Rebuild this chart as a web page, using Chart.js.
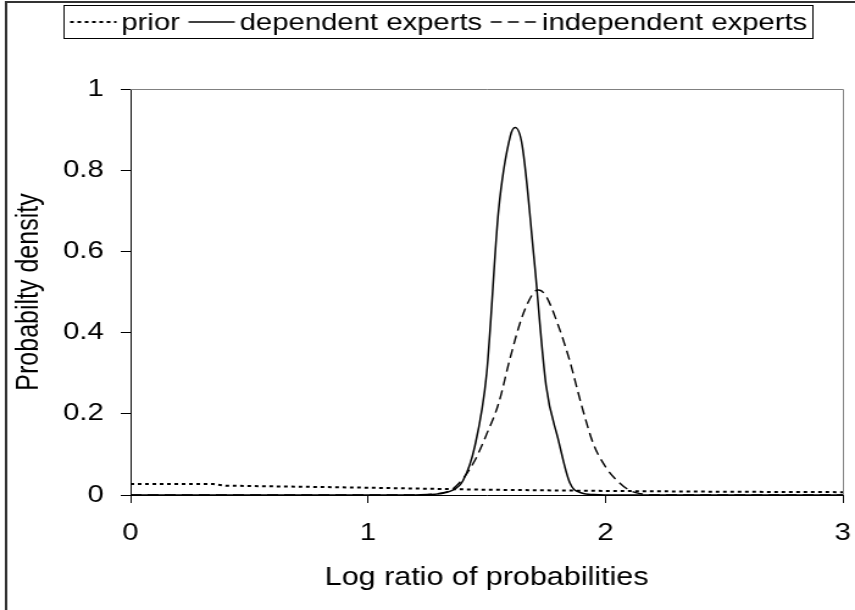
<!DOCTYPE html>
<html>
<head>
<meta charset="utf-8">
<script src="https://cdn.jsdelivr.net/npm/chart.js@4.4.0/dist/chart.umd.min.js"></script>
<style>
  html, body { margin: 0; padding: 0; background: #fff; overflow: hidden; }
  /* the original figure is stretched sideways, so draw narrower and scale in x */
  #wrap { width: 701px; height: 610px; transform: scaleX(1.2197); transform-origin: 0 0; }
</style>
</head>
<body>
<div id="wrap"><canvas id="chart" width="701" height="610"></canvas></div>
<script>
// Tick values
const xTickValues = [0, 1, 2, 3];
const yTickValues = [0, 0.2, 0.4, 0.6, 0.8, 1];

// prior (dotted)
const priorX = [0, 0.35, 0.4, 1.0, 1.5, 2.0, 2.5, 3.0];
const priorY = [0.027, 0.027, 0.023, 0.018, 0.013, 0.010, 0.008, 0.007];

// dependent experts (solid)
const depX = [0, 1.0, 1.2, 1.25, 1.3, 1.35, 1.4, 1.45, 1.5, 1.55, 1.6, 1.62, 1.65, 1.7, 1.75, 1.8, 1.85, 1.9, 1.95, 2.0, 3.0];
const depY = [0, 0, 0, 0.001, 0.003, 0.01, 0.035, 0.12, 0.30, 0.70, 0.885, 0.905, 0.86, 0.58, 0.27, 0.14, 0.03, 0.005, 0.001, 0, 0];

// independent experts (dashed)
const indX = [0, 1.0, 1.2, 1.25, 1.3, 1.35, 1.4, 1.45, 1.5, 1.55, 1.6, 1.65, 1.7, 1.72, 1.75, 1.8, 1.85, 1.9, 1.95, 2.0, 2.05, 2.1, 2.15, 2.2, 3.0];
const indY = [0, 0, 0, 0.001, 0.004, 0.012, 0.04, 0.085, 0.15, 0.225, 0.34, 0.44, 0.50, 0.505, 0.49, 0.42, 0.33, 0.22, 0.125, 0.07, 0.035, 0.012, 0.003, 0, 0];

const toPoints = (xs, ys) => xs.map((x, i) => ({ x: x, y: ys[i] }));

const FONT = "'Liberation Sans', Arial, sans-serif";

// ---------------------------------------------------------
// Boxed legend in one row: short sample line, text right after it
// ---------------------------------------------------------
const boxLegend = {
  id: "boxLegend",
  afterDraw(chart) {
    const ctx = chart.ctx;
    const sets = chart.data.datasets;
    const sample = 38, gapIn = 4, gapOut = 7, pad = 5;
    const top = 5, h = 33, cx = 358.7;

    ctx.save();
    ctx.font = "24px " + FONT;
    const widths = sets.map(ds => sample + gapIn + ctx.measureText(ds.label).width);
    const total = widths.reduce((a, b) => a + b, 0) + gapOut * (sets.length - 1) + pad * 2;
    const left = Math.round(cx - total / 2) + 0.5;

    ctx.strokeStyle = "#000";
    ctx.lineWidth = 1;
    ctx.setLineDash([]);
    ctx.strokeRect(left, top + 0.5, Math.round(total), h);

    const cy = top + h / 2 + 0.5;
    let x = left + pad;
    sets.forEach((ds, i) => {
      ctx.setLineDash(ds.borderDash || []);
      ctx.lineWidth = ds.borderWidth;
      ctx.beginPath();
      ctx.moveTo(x, cy);
      ctx.lineTo(x + sample, cy);
      ctx.stroke();
      ctx.setLineDash([]);
      ctx.fillStyle = "#000";
      ctx.textAlign = "left";
      ctx.textBaseline = "middle";
      ctx.fillText(ds.label, x + sample + gapIn, cy + 1);
      x += widths[i] + gapOut;
    });
    ctx.restore();
  }
};

// ---------------------------------------------------------
// Extra frame lines: gray plot border and the outer frame
// ---------------------------------------------------------
const framePlugin = {
  id: "frame",
  afterDraw(chart) {
    const ctx = chart.ctx;
    const a = chart.chartArea;
    ctx.save();
    ctx.setLineDash([]);

    ctx.strokeStyle = "#808080";
    ctx.lineWidth = 1;
    ctx.beginPath();
    ctx.moveTo(a.left, a.top + 0.5);
    ctx.lineTo(a.right + 0.5, a.top + 0.5);
    ctx.lineTo(a.right + 0.5, a.bottom);
    ctx.stroke();

    ctx.strokeStyle = "#333";
    ctx.lineWidth = 2;
    ctx.beginPath();
    ctx.moveTo(5, 610);
    ctx.lineTo(5, 2);
    ctx.lineTo(701, 2);
    ctx.stroke();
    ctx.restore();
  }
};

new Chart(document.getElementById("chart"), {
  type: "line",
  data: {
    datasets: [
      { label: "prior", data: toPoints(priorX, priorY), borderColor: "#000", borderWidth: 2, borderDash: [3, 3], pointRadius: 0, tension: 0 },
      { label: "dependent experts", data: toPoints(depX, depY), borderColor: "#000", borderWidth: 1.5, pointRadius: 0, cubicInterpolationMode: "monotone" },
      { label: "independent experts", data: toPoints(indX, indY), borderColor: "#000", borderWidth: 1.4, borderDash: [9, 5], pointRadius: 0, cubicInterpolationMode: "monotone" }
    ]
  },
  options: {
    responsive: false,
    animation: false,
    devicePixelRatio: 1,
    layout: { padding: { left: 26, right: 10, top: 89, bottom: 0 } },
    plugins: {
      legend: { display: false },
      tooltip: { enabled: false }
    },
    scales: {
      x: {
        type: "linear",
        min: 0,
        max: 3,
        afterBuildTicks: s => { s.ticks = xTickValues.map(v => ({ value: v })); },
        afterFit: s => { s.height = 115; s.paddingRight = 0; },
        ticks: { color: "#000", padding: 16, font: { family: FONT, size: 24 } },
        grid: { drawOnChartArea: false, color: "#000", tickLength: 8 },
        border: { color: "#000", width: 1 },
        title: { display: true, text: "Log ratio of probabilities", color: "#000", padding: { bottom: 17 }, font: { family: FONT, size: 25 } }
      },
      y: {
        min: 0,
        max: 1,
        afterBuildTicks: s => { s.ticks = yTickValues.map(v => ({ value: v })); },
        afterFit: s => { s.width = 81; },
        ticks: {
          color: "#000",
          padding: 14,
          font: { family: FONT, size: 24 },
          callback: v => String(Number(v.toFixed(1)))
        },
        grid: { drawOnChartArea: false, color: "#000", tickLength: 8 },
        border: { color: "#000", width: 1 },
        title: { display: true, text: "Probabilty density", color: "#000", padding: { top: -17 }, font: { family: FONT, size: 25 } }
      }
    }
  },
  plugins: [boxLegend, framePlugin]
});
</script>
</body>
</html>
